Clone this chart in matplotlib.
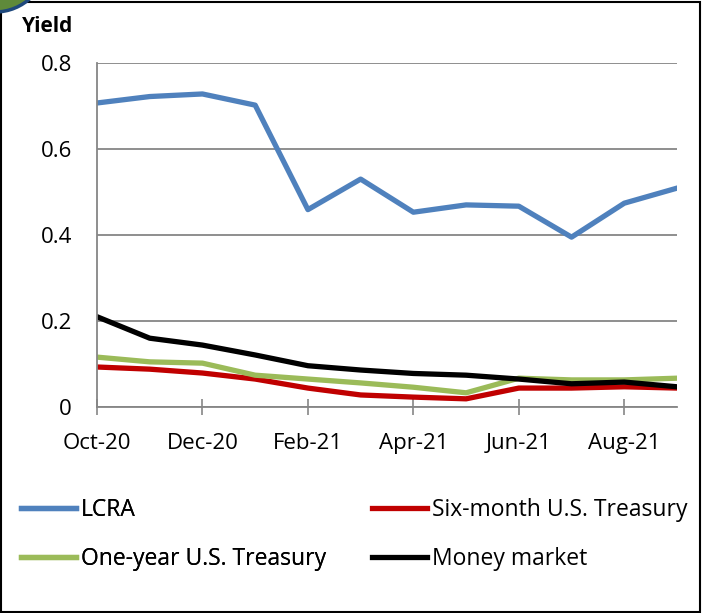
import numpy as np
import matplotlib
matplotlib.use("Agg")
from matplotlib import pyplot as plt
from matplotlib.patches import Circle, Rectangle

# データ
months = ["Oct-20", "Nov-20", "Dec-20", "Jan-21", "Feb-21", "Mar-21",
          "Apr-21", "May-21", "Jun-21", "Jul-21", "Aug-21", "Sep-21"]
lcra = [0.707, 0.722, 0.728, 0.702, 0.459, 0.530, 0.453, 0.470, 0.467, 0.395, 0.474, 0.509]
six_month = [0.093, 0.088, 0.079, 0.065, 0.044, 0.028, 0.023, 0.019, 0.044, 0.044, 0.047, 0.044]
one_year = [0.116, 0.105, 0.102, 0.074, 0.065, 0.056, 0.046, 0.033, 0.067, 0.063, 0.063, 0.067]
money_market = [0.210, 0.160, 0.144, 0.121, 0.096, 0.086, 0.078, 0.074, 0.065, 0.054, 0.058, 0.047]
yticks = [0, 0.2, 0.4, 0.6, 0.8]

plt.rcParams['font.family'] = ['Open Sans', 'DejaVu Sans']
FS = 16

W, H = 702, 613
fig = plt.figure(figsize=(W / 100, H / 100), dpi=100)
ax = fig.add_axes([97 / W, 1 - 407 / H, (677 - 97) / W, (407 - 63) / H])

x = np.arange(len(months))
l1, = ax.plot(x, lcra, color="#4F81BD", lw=3.8, label="LCRA")
l2, = ax.plot(x, six_month, color="#C00000", lw=3.8, label="Six-month U.S. Treasury")
l3, = ax.plot(x, one_year, color="#9BBB59", lw=3.8, label="One-year U.S. Treasury")
l4, = ax.plot(x, money_market, color="black", lw=3.8, label="Money market")

ax.set_xlim(0, len(months) - 1)
ax.set_ylim(0, 0.8)
ax.set_yticks(yticks)
ax.set_yticklabels(["0", "0.2", "0.4", "0.6", "0.8"], fontsize=FS)
ax.set_xticks(x[::2])
ax.set_xticklabels(months[::2], fontsize=FS)
ax.tick_params(axis="y", length=0, pad=18)
ax.tick_params(axis="x", direction="inout", length=12, width=1.2, color="#868686", pad=13)
ax.yaxis.grid(True, color="#868686", lw=1.3)
ax.set_axisbelow(True)
for s in ["top", "right"]:
    ax.spines[s].set_visible(False)
for s in ["left", "bottom"]:
    ax.spines[s].set_color("#868686")
    ax.spines[s].set_linewidth(1.3)

fig.text(22 / W, 1 - 27 / H, "Yield", fontsize=15, fontweight="bold", va="center")

# 凡例 (2列を別々に置く)
leg_kw = dict(loc="upper left", frameon=False, fontsize=16.5, handlelength=2.4,
              handletextpad=0.2, labelspacing=1.1, borderpad=0, borderaxespad=0)
lg1 = fig.legend([l1, l3], ["LCRA", "One-year U.S. Treasury"],
                 bbox_to_anchor=(21 / W, 1 - 498 / H), **leg_kw)
fig.legend([l2, l4], ["Six-month U.S. Treasury", "Money market"],
           bbox_to_anchor=(372 / W, 1 - 498 / H), **leg_kw)
fig.add_artist(lg1)

# 枠と角の円
fig.patches.append(Rectangle((1 / W, 1 / H), (W - 3) / W, (H - 3) / H,
                             transform=fig.transFigure, fill=False,
                             edgecolor="black", lw=1.5))
fig.patches.append(Circle((-0.05, (H + 40) / 100), 0.52, transform=fig.dpi_scale_trans,
                          facecolor="#5F8A3A", edgecolor="#1F497D", lw=2.5))

fig.savefig("out.png", dpi=100)
